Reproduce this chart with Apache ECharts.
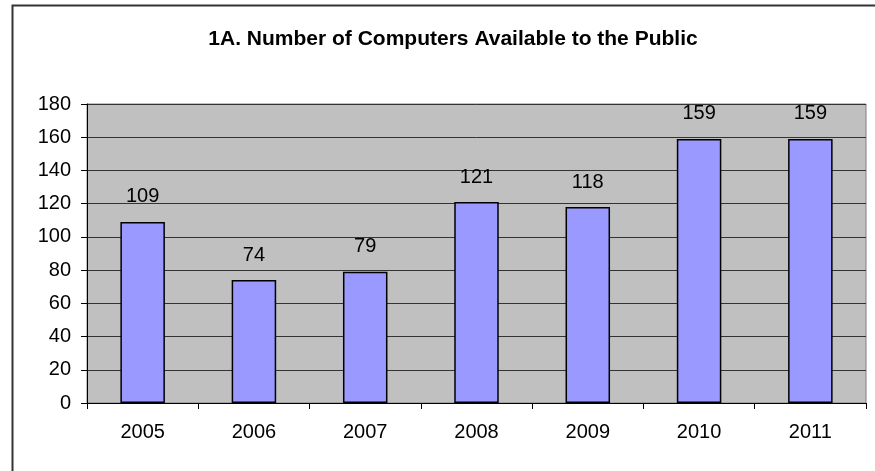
<!DOCTYPE html>
<html>
<head>
<meta charset="utf-8">
<script src="https://cdn.jsdelivr.net/npm/echarts@6/dist/echarts.min.js"></script>
<style>
html,body{margin:0;padding:0;background:#fff;}
#c{width:875px;height:471px;}
</style>
</head>
<body>
<div id="c"></div>
<script>
const titleText = '1A. Number of Computers Available to the Public';
const categories = ['2005','2006','2007','2008','2009','2010','2011'];
const computers = [109, 74, 79, 121, 118, 159, 159];
const yMin = 0, yMax = 180, yStep = 20;

const FONT = '"Liberation Sans", Arial, sans-serif';
const chart = echarts.init(document.getElementById('c'), null, {renderer:'canvas'});
chart.setOption({
  animation: false,
  backgroundColor: '#ffffff',
  title: {
    text: titleText,
    left: 448, top: 24, textAlign: 'center',
    textStyle: {fontFamily: FONT, fontSize: 21, fontWeight: 'bold', color: '#000'}
  },
  graphic: [{
    type: 'rect', left: 10, top: 3, z: 100, silent: true,
    shape: {x: 0, y: 0, width: 900, height: 520},
    style: {fill: 'none', stroke: '#333', lineWidth: 2}
  }],
  grid: {left: 87, right: 9, top: 104, bottom: 68, show: true,
         backgroundColor: '#c0c0c0', borderColor: '#808080', borderWidth: 1},
  xAxis: {
    type: 'category', data: categories,
    axisLine: {lineStyle: {color: '#000', width: 1}},
    axisTick: {show: true, length: 6, lineStyle: {color: '#000'}},
    axisLabel: {fontFamily: FONT, fontSize: 20, color: '#000', margin: 19},
    splitLine: {show: false}
  },
  yAxis: {
    type: 'value', min: yMin, max: yMax, interval: yStep,
    axisLine: {show: true, lineStyle: {color: '#000', width: 1}},
    axisTick: {show: true, length: 6, lineStyle: {color: '#000'}},
    axisLabel: {fontFamily: FONT, fontSize: 20, color: '#000', margin: 16},
    splitLine: {show: true, lineStyle: {color: '#333', width: 1}}
  },
  series: [{
    type: 'bar', data: computers, barCategoryGap: '60%',
    itemStyle: {color: '#9999ff', borderColor: '#000', borderWidth: 1.5},
    label: {show: true, position: 'top', distance: 15,
            fontFamily: FONT, fontSize: 20, color: '#000'}
  }]
});
</script>
</body>
</html>
